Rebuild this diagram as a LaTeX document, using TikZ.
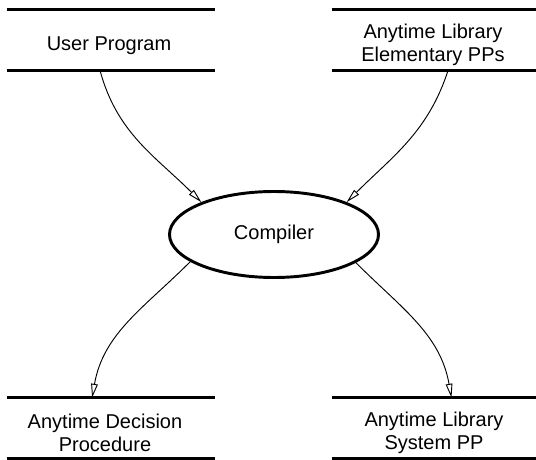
\documentclass[tikz,border=0pt]{standalone}
\usepackage{fontspec}
\setmainfont{Liberation Sans}
\usetikzlibrary{arrows.meta,shapes.geometric}
\begin{document}
\begin{tikzpicture}[x=0.75pt,y=0.75pt,
  store/.style={rectangle,inner sep=0pt,minimum height=45pt},
  storeline/.style={line width=2.2pt},
  lbl/.style={align=center,inner sep=0pt,font=\fontsize{15}{17}\selectfont},
  proc/.style={ellipse,draw,line width=2.2pt,inner sep=0pt,minimum width=156.75pt,minimum height=64.5pt,font=\fontsize{15}{17}\selectfont},
  flow/.style={line width=0.7pt,-{Triangle[open,length=10.5pt,width=5pt,line width=0.7pt]}}]
\useasboundingbox (0,0) rectangle (536,-460);
% stores
\node[store,minimum width=156pt] (user) at (111,-40) {};
\node[store,minimum width=153pt] (lib)  at (434,-40) {};
\node[store,minimum width=156pt] (adp)  at (111,-428) {};
\node[store,minimum width=153pt] (sys)  at (434,-428) {};
\foreach \n in {user,lib,adp,sys}{
  \draw[storeline] (\n.north west) -- (\n.north east);
  \draw[storeline] (\n.south west) -- (\n.south east);
}
\node[lbl] (userT) at (109,-46) {User Program};
\node[lbl] (libT)  at (433,-44.5) {Anytime Library\\Elementary PPs};
\node[lbl] (adpT)  at (105,-433) {Anytime Decision\\Procedure};
\node[lbl] (sysT)  at (434,-433) {Anytime Library\\System PP};
% process
\node[proc] (comp) at (274,-234.5) {Compiler};
% flows
\draw[flow] (user.250) to[out=-75,in=135] (comp.156);
\draw[flow] (lib.295) to[out=-108,in=45] (comp.24);
\draw[flow] (comp.198) to[out=-135,in=80] (adp.122);
\draw[flow] (comp.341) to[out=-45,in=100] (sys.60.5);
\end{tikzpicture}
\end{document}
